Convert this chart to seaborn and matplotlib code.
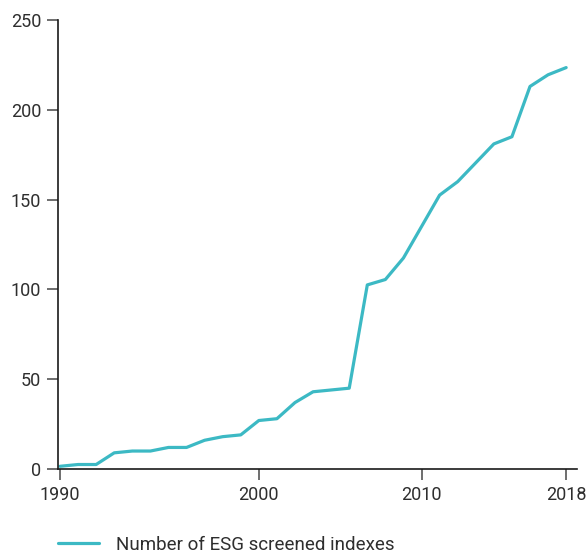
import numpy as np
import pandas as pd
import seaborn as sns
import matplotlib.pyplot as plt

# values, one point per step along the x axis
values = [1.5, 2.5, 2.5, 9, 10, 10, 12, 12, 16, 18, 19, 27, 28, 37, 43, 44, 45,
          102.5, 105.5, 117.5, 135, 152.5, 160, 170.5, 181, 185, 213, 219.5, 223.5]
tick_pos = [0, 11, 20, 28]
tick_labels = ['1990', '2000', '2010', '2018']
series_name = 'Number of ESG screened indexes'

df = pd.DataFrame({'step': np.arange(len(values)), 'count': values})

sns.set_theme(style='ticks')
plt.rcParams['font.family'] = ['Roboto', 'DejaVu Sans']

fig = plt.figure(figsize=(5.86, 5.54), dpi=100)
ax = fig.add_axes([58/586, 1 - 469/554, (577 - 58)/586, (469 - 20)/554])

sns.lineplot(data=df, x='step', y='count', ax=ax, color='#3cb9c4', linewidth=2.3,
             label=series_name)

ax.set_xlim(-0.11, 28.6)
ax.set_ylim(0, 250)
ax.set_xticks(tick_pos)
ax.set_xticklabels(tick_labels)
ax.set_yticks([0, 50, 100, 150, 200, 250])
ax.set_xlabel('')
ax.set_ylabel('')
sns.despine(ax=ax)
for s in ['left', 'bottom']:
    ax.spines[s].set_color('#1a1a1a')
    ax.spines[s].set_linewidth(1.2)
ax.tick_params(axis='both', length=8, width=1.2, color='#555555',
               labelsize=13, labelcolor='#2e2e2e', pad=4)

leg = ax.legend(loc='center left', bbox_to_anchor=(58/586, 9/554),
                bbox_transform=fig.transFigure, frameon=False, fontsize=13.5,
                handlelength=2.2, handletextpad=0.9, borderpad=0, borderaxespad=0)
for t in leg.get_texts():
    t.set_color('#2e2e2e')

fig.savefig('out.png', dpi=100)
